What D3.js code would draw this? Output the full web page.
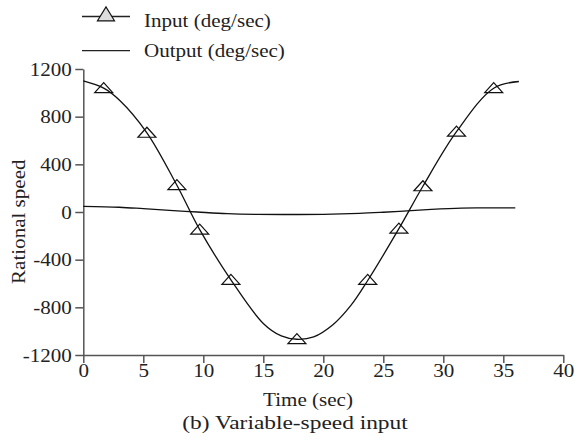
<!DOCTYPE html>
<html>
<head>
<meta charset="utf-8">
<script src="https://cdn.jsdelivr.net/npm/d3@7"></script>
<style>
  body { margin: 0; background: #fff; }
  svg text { font-family: "Liberation Serif", "Times New Roman", serif; fill: #222; }
</style>
</head>
<body>
<div id="graphic"></div>
<script>
// data
var inputT = [0, 1.7, 3, 5.3, 7.8, 9.7, 12.3, 15, 16.5, 17.8, 19.2, 20.8, 22.3, 23.7, 26.3, 28.3, 31.1, 34.2, 36.3];
var inputV = [1100, 1040, 940, 665, 225, -148, -569, -935, -1040, -1068, -1048, -946, -784, -575, -140, 216, 674, 1039, 1095];

var markerT = [1.7, 5.3, 7.8, 9.7, 12.3, 17.8, 23.7, 26.3, 28.3, 31.1, 34.2];
var markerV = [1040, 665, 225, -148, -569, -1066, -569, -140, 216, 674, 1039];

var outputT = [0, 3, 5, 7.5, 9.5, 12, 14.5, 17, 20, 23, 25, 27, 29, 31.5, 33, 36];
var outputV = [48, 40, 28, 12, 0, -14, -20, -21, -20, -12, -2, 10, 22, 33, 35, 35];

var xTicks = [0, 5, 10, 15, 20, 25, 30, 35, 40];
var yTicks = [-1200, -800, -400, 0, 400, 800, 1200];

var width = 584, height = 444;
var fs = 18, stretch = 1.17;
var axisColor = "#555";

var svg = d3.select("#graphic").append("svg")
    .attr("width", width)
    .attr("height", height);

var x = d3.scaleLinear().domain([0, 40]).range([83.3, 563.3]);
var y = d3.scaleLinear().domain([-1200, 1200]).range([355, 69]);

// x axis
var gx = svg.append("g")
    .attr("transform", "translate(0," + y(-1200) + ")")
    .call(d3.axisBottom(x).tickValues(xTicks).tickFormat(function (d) { return String(d); })
        .tickSize(8).tickSizeOuter(0));
gx.selectAll("text")
    .attr("y", null).attr("dy", null)
    .attr("transform", "translate(0,22) scale(" + stretch + ",1)")
    .style("font-size", fs + "px")
    .style("font-family", "Liberation Serif")
    .attr("fill", "#222");

// y axis
var gy = svg.append("g")
    .attr("transform", "translate(" + x(0) + ",0)")
    .call(d3.axisLeft(y).tickValues(yTicks).tickFormat(function (d) { return String(d); })
        .tickSize(8).tickSizeOuter(0));
gy.selectAll("text")
    .attr("x", null).attr("dy", "0.35em")
    .attr("transform", "translate(-11.5,0) scale(" + stretch + ",1)")
    .style("font-size", fs + "px")
    .style("font-family", "Liberation Serif")
    .attr("fill", "#222");

svg.selectAll(".domain, .tick line")
    .attr("stroke", axisColor)
    .attr("stroke-width", 1.5);

// curves
var line = d3.line()
    .x(function (d) { return x(d[0]); })
    .y(function (d) { return y(d[1]); })
    .curve(d3.curveCatmullRom.alpha(0.5));

svg.append("path")
    .datum(d3.zip(outputT, outputV))
    .attr("d", line)
    .attr("fill", "none")
    .attr("stroke", "#111")
    .attr("stroke-width", 1.3);

svg.append("path")
    .datum(d3.zip(inputT, inputV))
    .attr("d", line)
    .attr("fill", "none")
    .attr("stroke", "#111")
    .attr("stroke-width", 1.3);

// triangle markers (hollow)
var tri = function (cx, cy, w, h) {
    return "M" + (cx - w / 2) + "," + (cy + h * 0.45) +
        "L" + cx + "," + (cy - h * 0.55) +
        "L" + (cx + w / 2) + "," + (cy + h * 0.45) + "Z";
};

svg.selectAll(".marker")
    .data(d3.zip(markerT, markerV))
    .enter().append("path")
    .attr("class", "marker")
    .attr("d", function (d) { return tri(x(d[0]), y(d[1]), 18, 10); })
    .attr("fill", "none")
    .attr("stroke", "#111")
    .attr("stroke-width", 1.2);

// legend
svg.append("line")
    .attr("x1", 82).attr("x2", 130).attr("y1", 16.5).attr("y2", 16.5)
    .attr("stroke", "#222").attr("stroke-width", 1.3);
svg.append("path")
    .attr("d", "M97.5,20.8L106,7L114.5,20.8Z")
    .attr("fill", "#ddd")
    .attr("stroke", "#111")
    .attr("stroke-width", 1.2);
svg.append("line")
    .attr("x1", 82).attr("x2", 130).attr("y1", 50.7).attr("y2", 50.7)
    .attr("stroke", "#222").attr("stroke-width", 1.3);

svg.append("text")
    .attr("transform", "translate(144,26.5) scale(" + stretch + ",1)")
    .style("font-size", fs + "px")
    .text("Input (deg/sec)");
svg.append("text")
    .attr("transform", "translate(144,57) scale(" + stretch + ",1)")
    .style("font-size", fs + "px")
    .text("Output (deg/sec)");

// axis titles
svg.append("text")
    .attr("transform", "translate(24.5,221.7) rotate(-90) scale(" + stretch + ",1)")
    .attr("text-anchor", "middle")
    .style("font-size", fs + "px")
    .text("Rational speed");

svg.append("text")
    .attr("transform", "translate(308,405.5) scale(" + stretch + ",1)")
    .attr("text-anchor", "middle")
    .style("font-size", fs + "px")
    .text("Time (sec)");

svg.append("text")
    .attr("transform", "translate(295,428.5) scale(1.2,1)")
    .attr("text-anchor", "middle")
    .style("font-size", "19.5px")
    .text("(b) Variable-speed input");
</script>
</body>
</html>
